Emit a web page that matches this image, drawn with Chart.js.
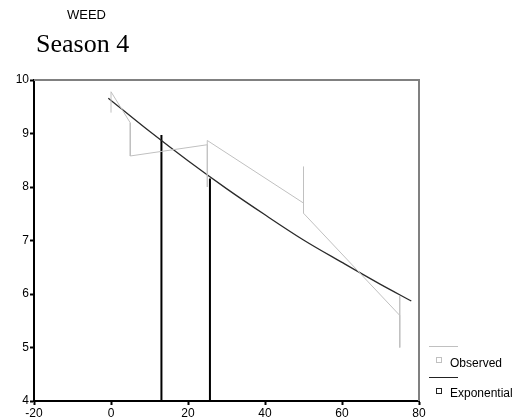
<!DOCTYPE html>
<html>
<head>
<meta charset="utf-8">
<script src="https://cdn.jsdelivr.net/npm/chart.js@4"></script>
<style>
  html, body { margin: 0; padding: 0; background: #fff; }
  #wrap { position: relative; width: 515px; height: 420px; }
</style>
</head>
<body>
<div id="wrap"><canvas id="weedChart" width="515" height="420"></canvas></div>
<script>
const smallTitle = "WEED";
const bigTitle = "Season 4";
const seriesNames = ["Observed", "Exponential"];

// observed values, in the order the line joins them
const obsX = [0, 0, 5, 5, 25, 25, 25, 50, 50, 50, 75, 75, 75];
const obsY = [9.39, 9.78, 9.2, 8.58, 8.79, 8.0, 8.87, 7.7, 8.38, 7.51, 5.6, 5.96, 5.0];

// exponential curve
const fitX = [-0.7, 10, 20, 30, 40, 50, 60, 70, 78];
const fitY = [9.66, 9.04, 8.49, 7.97, 7.48, 7.01, 6.59, 6.18, 5.87];

// the two black drop lines
const dropX = [13.1, 25.7];
const dropTop = [8.97, 8.16];
const dropBottom = 4;

const xMin = -20, xMax = 80, xStep = 20;
const yMin = 4, yMax = 10, yStep = 1;

const obsPts = obsX.map((x, i) => ({ x: x, y: obsY[i] }));
const fitPts = fitX.map((x, i) => ({ x: x, y: fitY[i] }));
const dropPts = [];
dropX.forEach((x, i) => {
  if (i > 0) dropPts.push({ x: x, y: null });
  dropPts.push({ x: x, y: dropTop[i] });
  dropPts.push({ x: x, y: dropBottom });
});

const extras = {
  id: "extras",
  afterDatasetsDraw(chart) {
    const c = chart.ctx;
    const a = chart.chartArea;
    c.save();
    // gray frame on top and right
    c.strokeStyle = "#808080";
    c.lineWidth = 2;
    c.beginPath();
    c.moveTo(a.left, a.top);
    c.lineTo(a.right, a.top);
    c.lineTo(a.right, a.bottom);
    c.stroke();
    c.restore();
  },
  afterDraw(chart) {
    const c = chart.ctx;
    c.save();
    c.fillStyle = "#000";
    c.textBaseline = "alphabetic";
    c.font = "13px 'Liberation Sans', Arial, sans-serif";
    c.fillText(smallTitle, 67, 19);
    c.font = "26px 'Liberation Serif', 'Times New Roman', serif";
    c.fillText(bigTitle, 36, 52);

    // legend
    c.lineWidth = 1;
    c.strokeStyle = "#c0c0c0";
    c.beginPath();
    c.moveTo(429, 346.5);
    c.lineTo(458, 346.5);
    c.stroke();
    c.strokeRect(436.5, 357.5, 5, 5);
    c.strokeStyle = "#222";
    c.beginPath();
    c.moveTo(429, 377.5);
    c.lineTo(458, 377.5);
    c.stroke();
    c.strokeRect(436.5, 388.5, 5, 5);
    c.font = "12px 'Liberation Sans', Arial, sans-serif";
    c.fillStyle = "#000";
    c.fillText(seriesNames[0], 450, 367);
    c.fillText(seriesNames[1], 450, 397);
    c.restore();
  }
};

const ctx = document.getElementById("weedChart");
const weedChart = new Chart(ctx, {
  type: "scatter",
  data: {
    datasets: [
      {
        label: seriesNames[0],
        data: obsPts,
        showLine: true,
        borderColor: "#c0c0c0",
        borderWidth: 1,
        pointRadius: 0,
        tension: 0,
      },
      {
        label: seriesNames[1],
        data: fitPts,
        showLine: true,
        borderColor: "#2a2a2a",
        borderWidth: 1.3,
        pointRadius: 0,
        cubicInterpolationMode: "monotone",
      },
      {
        label: "drop",
        data: dropPts,
        showLine: true,
        spanGaps: false,
        borderColor: "#000",
        borderWidth: 2,
        pointRadius: 0,
      },
    ],
  },
  options: {
    responsive: false,
    animation: false,
    layout: { padding: { top: 80, right: 96, left: 0, bottom: 0 } },
    plugins: {
      legend: { display: false },
      tooltip: { enabled: false },
      title: { display: false },
    },
    scales: {
      x: {
        type: "linear",
        min: xMin,
        max: xMax,
        afterFit(scale) { scale.height = 19; },
        ticks: {
          stepSize: xStep,
          color: "#000",
          padding: 1,
          maxRotation: 0,
          font: { family: "'Liberation Sans', Arial, sans-serif", size: 12 },
        },
        grid: { drawOnChartArea: false, color: "#000", tickLength: 4, tickWidth: 2 },
        border: { color: "#000", width: 2 },
      },
      y: {
        min: yMin,
        max: yMax,
        afterFit(scale) { scale.width = 34; },
        ticks: {
          stepSize: yStep,
          color: "#000",
          padding: 1,
          font: { family: "'Liberation Sans', Arial, sans-serif", size: 12 },
        },
        grid: { drawOnChartArea: false, color: "#000", tickLength: 4, tickWidth: 2 },
        border: { color: "#000", width: 2 },
      },
    },
  },
  plugins: [extras],
});
</script>
</body>
</html>
